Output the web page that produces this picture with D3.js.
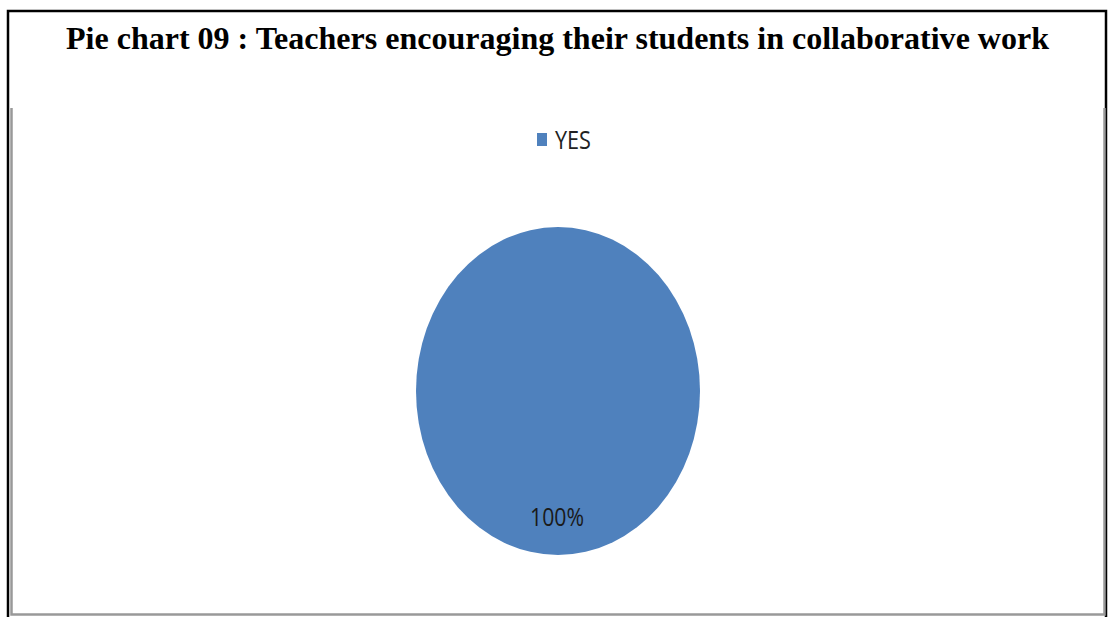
<!DOCTYPE html>
<html>
<head>
<meta charset="utf-8">
<script src="https://cdn.jsdelivr.net/npm/d3@7"></script>
<style>
  html, body { margin: 0; padding: 0; background: #fff; }
  svg { display: block; }
</style>
</head>
<body>
<svg id="chart" width="1110" height="617"></svg>
<script>
// Survey answers
const categories = ["YES"];
const values = [100];
const colors = ["#4F81BD"];
const titleText = "Pie chart 09 : Teachers encouraging their students in collaborative work";

const svg = d3.select("#chart");

// Outer frame (black) and inner chart frame (grey)
svg.append("rect").attr("x", 8).attr("y", 11).attr("width", 1098).attr("height", 620)
  .attr("fill", "none").attr("stroke", "#000").attr("stroke-width", 2.5);
svg.append("path")
  .attr("d", `M11.5,108 V614.5 H1104.5 V108`)
  .attr("fill", "none").attr("stroke", "#999").attr("stroke-width", 2.5);

// Title
svg.append("text")
  .attr("x", 66).attr("y", 49)
  .attr("font-family", "'Liberation Serif', 'Times New Roman', serif")
  .attr("font-weight", "bold")
  .attr("font-size", 31.5)
  .attr("textLength", 983)
  .attr("lengthAdjust", "spacingAndGlyphs")
  .attr("fill", "#000")
  .text(titleText);

// Legend
const legend = svg.append("g").attr("transform", "translate(537,133)");
categories.forEach((c, i) => {
  legend.append("rect").attr("x", 0).attr("y", 0).attr("width", 10).attr("height", 13)
    .attr("fill", colors[i]);
  legend.append("text").attr("x", 18).attr("y", 16)
    .attr("font-family", "'Open Sans', 'Liberation Sans', sans-serif")
    .attr("font-size", 26).attr("fill", "#222")
    .attr("textLength", 36).attr("lengthAdjust", "spacingAndGlyphs")
    .text(c);
});

// Pie (drawn as a circle then stretched vertically)
const cx = 558, cy = 391, rx = 142, ry = 164;
const pie = d3.pie().sort(null).value(d => d)(values);
const arc = d3.arc().innerRadius(0).outerRadius(rx);
const g = svg.append("g").attr("transform", `translate(${cx},${cy}) scale(1,${ry / rx})`);
g.selectAll("path").data(pie).join("path")
  .attr("d", arc)
  .attr("fill", (d, i) => colors[i]);

// Data label
const total = d3.sum(values);
pie.forEach((d, i) => {
  svg.append("text")
    .attr("x", 530).attr("y", 526)
    .attr("font-family", "'Open Sans', 'Liberation Sans', sans-serif")
    .attr("font-size", 25).attr("fill", "#1a1a1a")
    .attr("textLength", 54).attr("lengthAdjust", "spacingAndGlyphs")
    .text(Math.round(values[i] / total * 100) + "%");
});
</script>
</body>
</html>
